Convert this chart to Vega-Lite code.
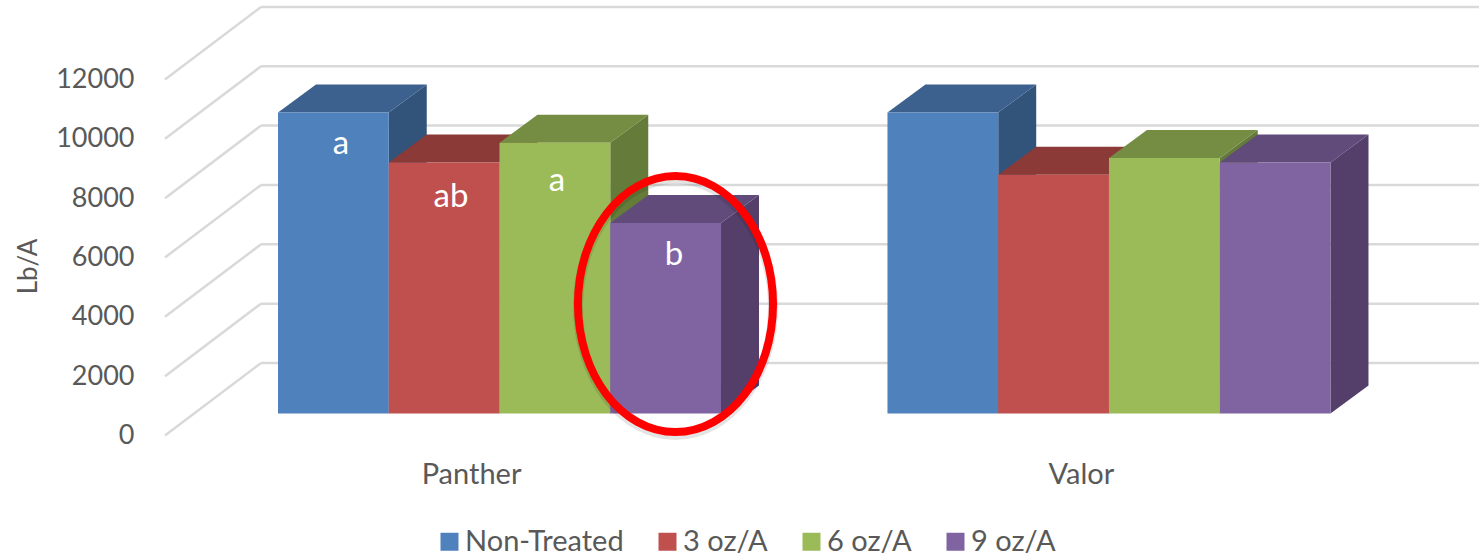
{
"$schema":"https://vega.github.io/schema/vega-lite/v6.json",
"width":1314,"height":455,
"autosize":{"type":"none"},
"padding":{"left":165,"top":0,"right":0,"bottom":100},
"background":"white",
"config":{"view":{"stroke":null},"font":"Lato"},
"datasets":{
"bars":[
{"group":"Panther","treatment":"Non-Treated","value":10145,"letter":"a"},
{"group":"Panther","treatment":"3 oz/A","value":8460,"letter":"ab"},
{"group":"Panther","treatment":"6 oz/A","value":9124,"letter":"a"},
{"group":"Panther","treatment":"9 oz/A","value":6417,"letter":"b"},
{"group":"Valor","treatment":"Non-Treated","value":10145,"letter":""},
{"group":"Valor","treatment":"3 oz/A","value":8045,"letter":""},
{"group":"Valor","treatment":"6 oz/A","value":8608,"letter":""},
{"group":"Valor","treatment":"9 oz/A","value":8460,"letter":""}
],
"ticks":[{"tick":0},{"tick":2000},{"tick":4000},{"tick":6000},{"tick":8000},{"tick":10000},{"tick":12000}]
},
"layer":[
{"data":{"name":"ticks"},
 "transform":[{"calculate":"datum.tick+2444","as":"back"},{"calculate":"-1.0203","as":"xf"},{"calculate":"-0.1535","as":"xb"},{"calculate":"10.844","as":"xe"}],
 "layer":[
 {"mark":{"type":"rule","color":"#D9D9D9","strokeWidth":2.5},
  "encoding":{
   "x":{"field":"xf","type":"quantitative","scale":{"domain":[-1.0203,10.844],"range":[0,1314],"nice":false,"zero":false},
     "axis":{"title":null,"grid":false,"domain":false,"ticks":false,"values":[1.743,7.25],"labelExpr":"datum.value<4?'Panther':'Valor'","labelFontSize":29,"labelColor":"#595959","labelPadding":5,"labelFlush":false}},
   "x2":{"field":"xb"},
   "y":{"field":"tick","type":"quantitative","scale":{"domain":[-657.2,14678],"range":[455,0],"nice":false,"zero":false},
     "axis":{"title":"Lb/A","titleFontSize":26,"titleFontWeight":"normal","titleColor":"#595959","titleX":-124,"titleY":266,"grid":false,"domain":false,"ticks":false,"values":[0,2000,4000,6000,8000,10000,12000],"labelExpr":"datum.value","labelFontSize":27,"labelColor":"#595959","labelPadding":31,"labelOffset":0}},
   "y2":{"field":"back"}}},
 {"mark":{"type":"rule","color":"#D9D9D9","strokeWidth":2.5},
  "encoding":{
   "x":{"field":"xb","type":"quantitative"},
   "x2":{"field":"xe"},
   "y":{"field":"back","type":"quantitative"}}}
 ]},
{"data":{"name":"bars"},
 "transform":[
  {"calculate":"indexof(['Non-Treated','3 oz/A','6 oz/A','9 oz/A'],datum.treatment)","as":"idx"},
  {"calculate":"(datum.group==='Valor'?5.503:0)+datum.idx","as":"x0"},
  {"calculate":"datum.x0+1","as":"x1"},
  {"calculate":"741.5","as":"base"},
  {"calculate":"datum.value+datum.base","as":"yFront"},
  {"calculate":"datum.group+datum.treatment","as":"key"}
 ],
 "resolve":{"scale":{"fill":"independent"}},
 "layer":[
 {"transform":[{"calculate":"[0,1]","as":"d"},{"flatten":["d"]},
   {"calculate":"datum.x1+datum.d*0.343","as":"sx"},
   {"calculate":"datum.base+datum.d*944","as":"sy0"},
   {"calculate":"datum.yFront+datum.d*944","as":"sy1"}],
  "mark":{"type":"area","orient":"vertical","strokeWidth":0},
  "encoding":{
   "x":{"field":"sx","type":"quantitative"},
   "y":{"field":"sy1","type":"quantitative"},
   "y2":{"field":"sy0"},
   "detail":{"field":"key"},
   "fill":{"field":"treatment","type":"nominal","legend":null,"scale":{"domain":["Non-Treated","3 oz/A","6 oz/A","9 oz/A"],"range":["#32537A","#7F3431","#657B39","#533F69"]}}}},
 {"transform":[{"calculate":"[0,1]","as":"d"},{"flatten":["d"]},
   {"calculate":"datum.yFront+datum.d*944","as":"ty"},
   {"calculate":"datum.x0+datum.d*0.343","as":"ta"},
   {"calculate":"datum.x1+datum.d*0.343","as":"tb"}],
  "mark":{"type":"area","orient":"horizontal","strokeWidth":0},
  "encoding":{
   "y":{"field":"ty","type":"quantitative"},
   "x":{"field":"ta","type":"quantitative"},
   "x2":{"field":"tb"},
   "detail":{"field":"key"},
   "fill":{"field":"treatment","type":"nominal","legend":null,"scale":{"domain":["Non-Treated","3 oz/A","6 oz/A","9 oz/A"],"range":["#3D618E","#8C3A38","#748D42","#604B7A"]}}}},
 {"mark":{"type":"rect","strokeWidth":0},
  "encoding":{
   "x":{"field":"x0","type":"quantitative"},
   "x2":{"field":"x1"},
   "y":{"field":"yFront","type":"quantitative"},
   "y2":{"field":"base"},
   "color":{"field":"treatment","type":"nominal",
     "scale":{"domain":["Non-Treated","3 oz/A","6 oz/A","9 oz/A"],"range":["#4F81BD","#C0504D","#9BBB59","#8064A2"]},
     "legend":{"title":null,"orient":"none","legendX":270,"legendY":527,"direction":"horizontal","columns":4,"symbolType":"square","symbolSize":324,"symbolStrokeWidth":0,"labelFontSize":29,"labelColor":"#595959","columnPadding":29,"labelOffset":1,"labelLimit":300}}}},
 {"transform":[{"filter":"datum.letter!==''"},
   {"calculate":"datum.x0+0.5+[0.069,0.062,0.019,0.076][datum.idx]","as":"lx"},
   {"calculate":"datum.yFront-[1011,1112,1247,1045][datum.idx]-40","as":"ly"}],
  "mark":{"type":"text","color":"white","fontSize":33,"baseline":"middle","align":"center"},
  "encoding":{
   "x":{"field":"lx","type":"quantitative"},
   "y":{"field":"ly","type":"quantitative"},
   "text":{"field":"letter"}}},
 {"transform":[{"filter":"datum.group==='Panther'&&datum.treatment==='9 oz/A'"},
   {"calculate":"datum.x0+0.589","as":"ex"},
   {"calculate":"datum.value*0.5+datum.base+380","as":"ey"}],
  "mark":{"type":"point","filled":false,"stroke":"#000000","strokeWidth":10,"opacity":0.1,"size":65536,
    "shape":"M-0.762,0C-0.762,-0.552,-0.421,-1,0,-1C0.421,-1,0.762,-0.552,0.762,0C0.762,0.552,0.421,1,0,1C-0.421,1,-0.762,0.552,-0.762,0Z"},
  "encoding":{
   "x":{"field":"ex","type":"quantitative"},
   "y":{"field":"ey","type":"quantitative"}}},
 {"transform":[{"filter":"datum.group==='Panther'&&datum.treatment==='9 oz/A'"},
   {"calculate":"datum.x0+0.589","as":"ex"},
   {"calculate":"datum.value*0.5+datum.base+480","as":"ey"}],
  "mark":{"type":"point","filled":false,"stroke":"#FF0000","strokeWidth":8,"opacity":1,"size":65536,
    "shape":"M-0.762,0C-0.762,-0.552,-0.421,-1,0,-1C0.421,-1,0.762,-0.552,0.762,0C0.762,0.552,0.421,1,0,1C-0.421,1,-0.762,0.552,-0.762,0Z"},
  "encoding":{
   "x":{"field":"ex","type":"quantitative"},
   "y":{"field":"ey","type":"quantitative"}}}
 ]}
]
}
